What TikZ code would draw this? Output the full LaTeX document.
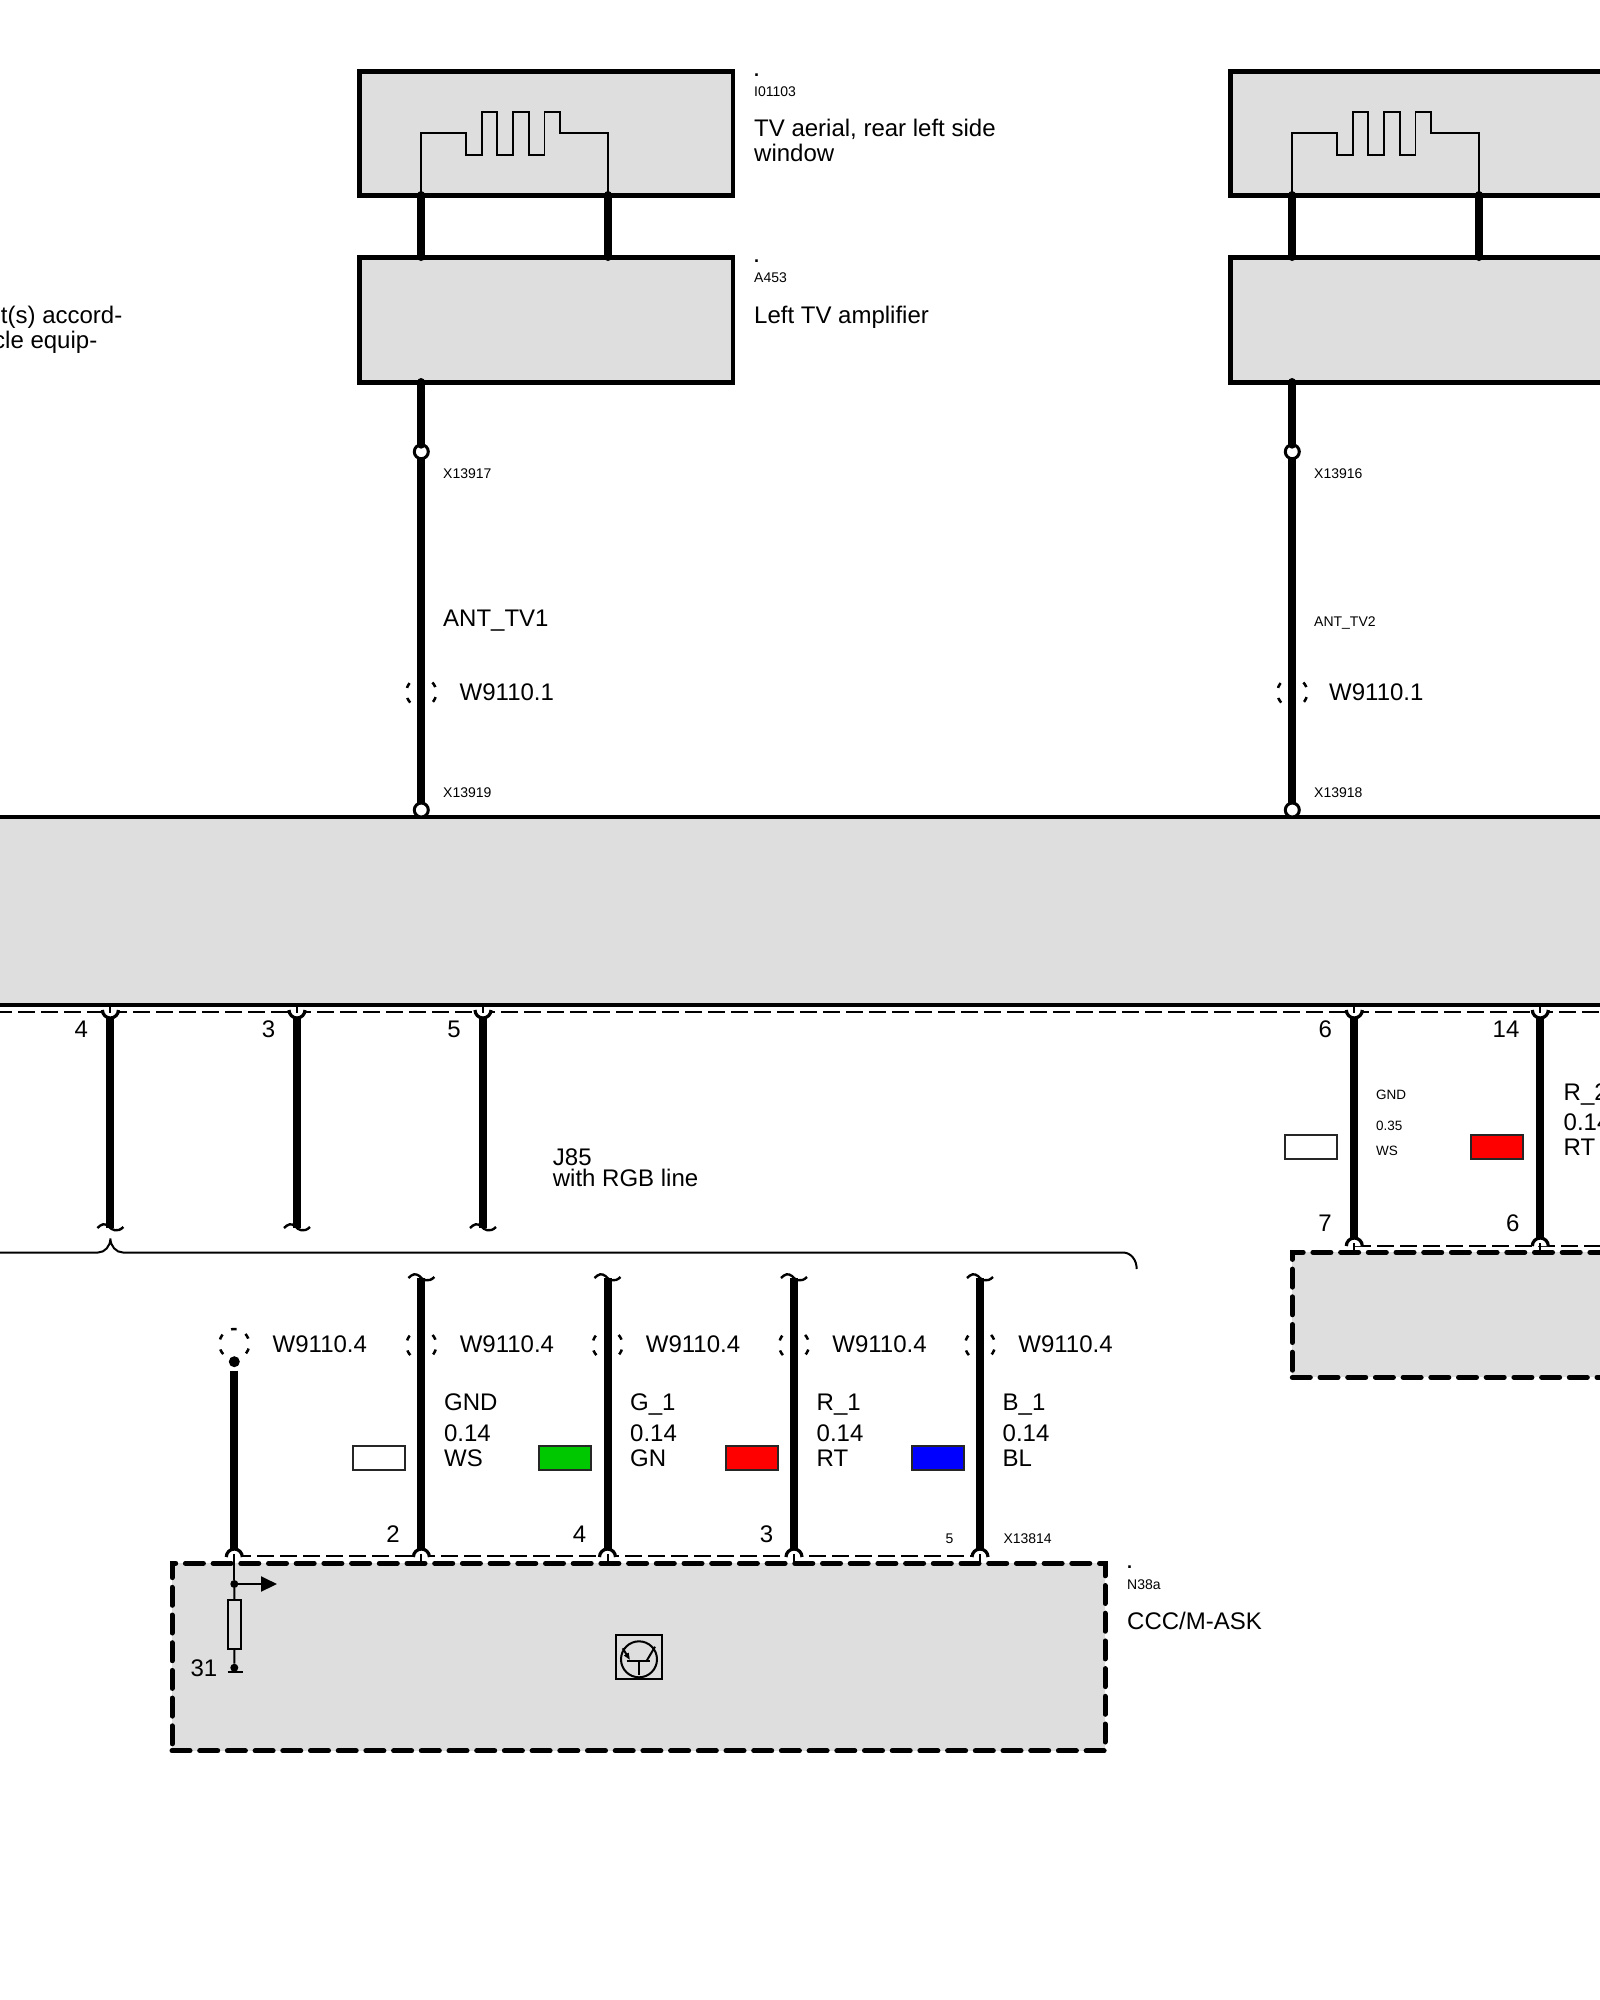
\documentclass[tikz,border=0pt]{standalone}
\usepackage{fontspec}
\setmainfont{Liberation Sans}
\usetikzlibrary{arrows.meta,calc,positioning}
\definecolor{boxgray}{HTML}{DEDEDE}
\definecolor{wgreen}{HTML}{00C800}
\definecolor{wred}{HTML}{FF0000}
\definecolor{wblue}{HTML}{0000FF}
\tikzset{
  unitbox/.style={draw,line width=4.2pt,fill=boxgray,inner sep=0,outer sep=0,anchor=north west},
  dashbox/.style={unitbox,line width=5pt,line cap=round,dash pattern=on 18pt off 9.7pt},
  wire/.style={line width=8pt,line cap=round},
  flatwire/.style={line width=8pt},
  fine/.style={line width=2pt},
  thindash/.style={line width=2pt,dash pattern=on 17pt off 6pt},
  plugarc/.style={line width=3.2pt,fill=white},
  conn/.style={circle,draw,fill=white,line width=3pt,minimum size=14pt,inner sep=0,outer sep=0},
  shield/.style={circle,draw,line width=2.5pt,minimum size=30pt,inner sep=0,dash pattern=on 5.5pt off 10.2pt,dash phase=10.2pt},
  blob/.style={circle,fill,inner sep=0,outer sep=0,minimum size=#1},
  swatch/.style={draw=black!85,line width=2pt,inner sep=0,minimum width=52pt,minimum height=23.5pt},
  big/.style={font=\fontsize{24}{25}\selectfont,inner sep=0,anchor=base west},
  small/.style={font=\fontsize{14}{15}\selectfont,inner sep=0,anchor=base west},
  pinno/.style={font=\fontsize{24}{25}\selectfont,inner sep=0,anchor=base},
  dotmark/.style={font=\bfseries\fontsize{18}{18}\selectfont,inner sep=0,anchor=base west}
}
\newcommand{\waveend}[2]{\draw[line width=2.4pt] (#1-13,#2) .. controls (#1-9,#2-4) and (#1-6,#2-5) .. (#1-2,#2-2) .. controls (#1+1,#2+2) and (#1+7,#2+5) .. (#1+13,#2-1);}
\newcommand{\plugtop}[2]{
  \draw[plugarc] (#1-8,#2) arc[start angle=180,end angle=360,radius=8pt];
  \draw[fine] (#1,#2-4) -- (#1,#2+3);
}
\newcommand{\plugbot}[2]{
  \draw[plugarc] (#1-8,#2) arc[start angle=180,end angle=0,radius=8pt];
  \draw[fine] (#1,#2-3) -- (#1,#2+7);
}
\begin{document}
\begin{tikzpicture}[x=1pt,y=-1pt]
  \useasboundingbox (0,0) rectangle (1600,2000);
  % aerial and amplifier, both sides
  \foreach \g/\s/\bw in {1/0/373.5, 2/871/420} {
    \begin{scope}[xshift=\s pt]
      \node[unitbox,minimum width=\bw pt,minimum height=124pt] (aerial\g) at (359.5,71.5) {};
      \node[unitbox,minimum width=\bw pt,minimum height=125pt] (amp\g) at (359.5,257.5) {};
      \draw[line width=1.8pt] (421.3,193) |- (466.3,133.3) |- (482,155) |- (497.1,112) |- (513.2,155) |- (528.8,112) |- (544.5,155) |- (559.6,112) |- (607.9,133.3) -- (607.9,193);
      \coordinate (a\g) at (421.3,195);
      \coordinate (b\g) at (607.9,195);
      \coordinate (c\g) at (421.3,257);
      \coordinate (d\g) at (607.9,257);
      \coordinate (e\g) at (421.3,382);
      \node[shield] (sh\g) at (421.3,692.5) {};
    \end{scope}
    \draw[wire] (a\g) -- (c\g);
    \draw[wire] (b\g) -- (d\g);
  }
  \node[unitbox,minimum width=1640pt,minimum height=187.4pt] (head) at (-20,817.3) {};
  \node[conn] (x17) at (421.3,451.7) {};
  \node[conn] (x19) at (421.3,810) {};
  \node[conn] (x16) at (1292.3,451.7) {};
  \node[conn] (x18) at (1292.3,810) {};
  \draw[wire] (e1) -- (x17);
  \draw[flatwire] (x17) -- (x19);
  \draw[wire] (e2) -- (x16);
  \draw[flatwire] (x16) -- (x18);

  % texts at the top
  \node[dotmark] (dota) at (754,76) {.};
  \node[small] (ida) at (754,96.7) {I01103};
  \node[big,align=left] (txta) at (754,161) {TV aerial, rear left side\\window};
  \node[dotmark] (dotb) at (754,262.5) {.};
  \node[small] (idb) at (754,282.7) {A453};
  \node[big] (txtb) at (754,323) {Left TV amplifier};
  \node[big,anchor=base east] (cuta) at (122.5,323.5) {t(s) accord-};
  \node[big,anchor=base east] (cutb) at (97.5,348) {cle equip-};
  \node[small] (l17) at (443,478) {X13917};
  \node[big] (ant1) at (443,626) {ANT\_TV1};
  \node[big] (w1) at (459.5,700) {W9110.1};
  \node[small] (l19) at (443,797.3) {X13919};
  \node[small] (l16) at (1314,478) {X13916};
  \node[small] (ant2) at (1314,626) {ANT\_TV2};
  \node[big] (w2) at (1329,700) {W9110.1};
  \node[small] (l18) at (1314,797.3) {X13918};

  % lines leaving the head unit
  \draw[thindash] (-5,1012.3) -- (1605,1012.3);
  \foreach \i/\wx/\pin/\px in {1/110.4/4/81.4, 2/297/3/268.6, 3/483/5/454} {
    \draw[flatwire] (\wx,1017) -- (\wx,1228);
    \plugtop{\wx}{1010}
    \waveend{\wx}{1228}
    \node[pinno] (hp\i) at (\px,1037.7) {\pin};
  }
  \node[big,font=\fontsize{24}{21}\selectfont,align=left] (j85) at (552.7,1186) {J85\\with RGB line};

  % brace
  \draw[fine] (-5,1252.5) -- (98,1252.5) .. controls (105,1252.5) and (110.4,1246) .. (110.4,1238.5) .. controls (110.4,1246) and (116,1252.5) .. (123,1252.5) -- (1123,1252.5) .. controls (1131,1252.5) and (1136.7,1260) .. (1136.7,1269);

  % right side
  \node[dashbox,minimum width=400pt,minimum height=125pt] (dvd) at (1292.3,1252.3) {};
  \draw[thindash] (1354.3,1245.7) -- (1605,1245.7);
  \foreach \i/\wx/\pa/\pax/\pb/\pbx/\col in {1/1354.3/6/1325.3/7/1325/white, 2/1540.3/14/1506/6/1512.7/wred} {
    \draw[flatwire] (\wx,1017) -- (\wx,1241);
    \plugtop{\wx}{1010}
    \plugbot{\wx}{1246}
    \node[pinno] (ra\i) at (\pax,1037.7) {\pa};
    \node[pinno] (rb\i) at (\pbx,1231.7) {\pb};
    \node[swatch,fill=\col] (rc\i) at (\wx-43,1147) {};
  }
  \node[small,font=\fontsize{13.5}{15}\selectfont] (rgnd) at (1376,1099.3) {GND};
  \node[small,font=\fontsize{13.5}{15}\selectfont] (rsize) at (1376,1130) {0.35};
  \node[small,font=\fontsize{13.5}{15}\selectfont] (rws) at (1376,1155) {WS};
  \node[big] (rsig) at (1563.5,1100) {R\_2};
  \node[big] (rsize2) at (1563.5,1130) {0.14};
  \node[big] (rrt) at (1563.5,1155.7) {RT};

  % control unit
  \node[dashbox,minimum width=933pt,minimum height=187.5pt] (ccc) at (172,1563.3) {};
  \draw[thindash] (234.3,1556) -- (980,1556);
  \foreach \i/\wx/\sig/\cn/\col in {1/421.4/GND/WS/white, 2/607.5/G\_1/GN/wgreen, 3/794/R\_1/RT/wred, 4/980/B\_1/BL/wblue} {
    \node[shield] (ls\i) at (\wx,1345) {};
    \draw[flatwire] (\wx,1278) -- (\wx,1551);
    \waveend{\wx}{1278}
    \plugbot{\wx}{1557}
    \node[big] (lw\i) at (\wx+38.2,1352.7) {W9110.4};
    \node[big] (lsig\i) at (\wx+22.5,1410) {\sig};
    \node[big] (lsz\i) at (\wx+22.5,1441.5) {0.14};
    \node[big] (lcn\i) at (\wx+22.5,1466) {\cn};
    \node[swatch,fill=\col] (lc\i) at (\wx-42.5,1458) {};
  }
  \foreach \i/\pin/\px in {1/2/393, 2/4/579.5, 3/3/766.6} {
    \node[pinno] (lp\i) at (\px,1542.8) {\pin};
  }
  \node[small,anchor=base] (lp4) at (949.5,1543) {5};
  \node[small] (l14) at (1003.3,1543) {X13814};
  \node[dotmark] (dotc) at (1127,1568) {.};
  \node[small] (idc) at (1127,1589) {N38a};
  \node[big] (txtc) at (1127,1629) {CCC/M-ASK};

  % shield line with pull down
  \node[shield] (sh0) at (234.3,1344) {};
  \node[big] (w0) at (272.5,1352.7) {W9110.4};
  \node[blob=11pt] (top0) at (234.3,1361.7) {};
  \draw[flatwire] (234.3,1370.7) -- (234.3,1551);
  \plugbot{234.3}{1557}
  \node[blob=8pt] (jn) at (234.3,1584) {};
  \node[draw,fine,inner sep=0,outer sep=0,minimum width=13pt,minimum height=49.3pt] (rpull) at (234.5,1624.6) {};
  \node[blob=8pt] (gnd) at (234.3,1667.7) {};
  \coordinate (sigend) at (277,1584);
  \coordinate (gndl) at (227.5,1672);
  \coordinate (gndr) at (242.5,1672);
  \draw[fine] (234.3,1563) -- (jn);
  \draw[fine] (jn) -- (rpull);
  \draw[fine] (rpull) -- (gnd);
  \draw[fine] (gndl) -- (gndr);
  \draw[fine,-{Triangle[length=16pt,width=15pt]}] (jn) -- (sigend);
  \node[pinno] (p31) at (204,1676.7) {31};

  % transistor sign
  \node[draw,fine,inner sep=0,outer sep=0,minimum width=46pt,minimum height=44pt] (trbox) at (638.8,1657) {};
  \node[circle,draw,fine,inner sep=0,minimum size=36pt] (trc) at (639,1659.3) {};
  \draw[fine] (626.7,1660.7) -- (650,1660.7);
  \draw[fine] (638.7,1660.7) -- (638.7,1675);
  \draw[fine,-{Triangle[length=7pt,width=5pt]}] (622.7,1648.3) -- (630,1660);
  \draw[fine] (655,1646.7) -- (646.7,1660.7);
\end{tikzpicture}
\end{document}
